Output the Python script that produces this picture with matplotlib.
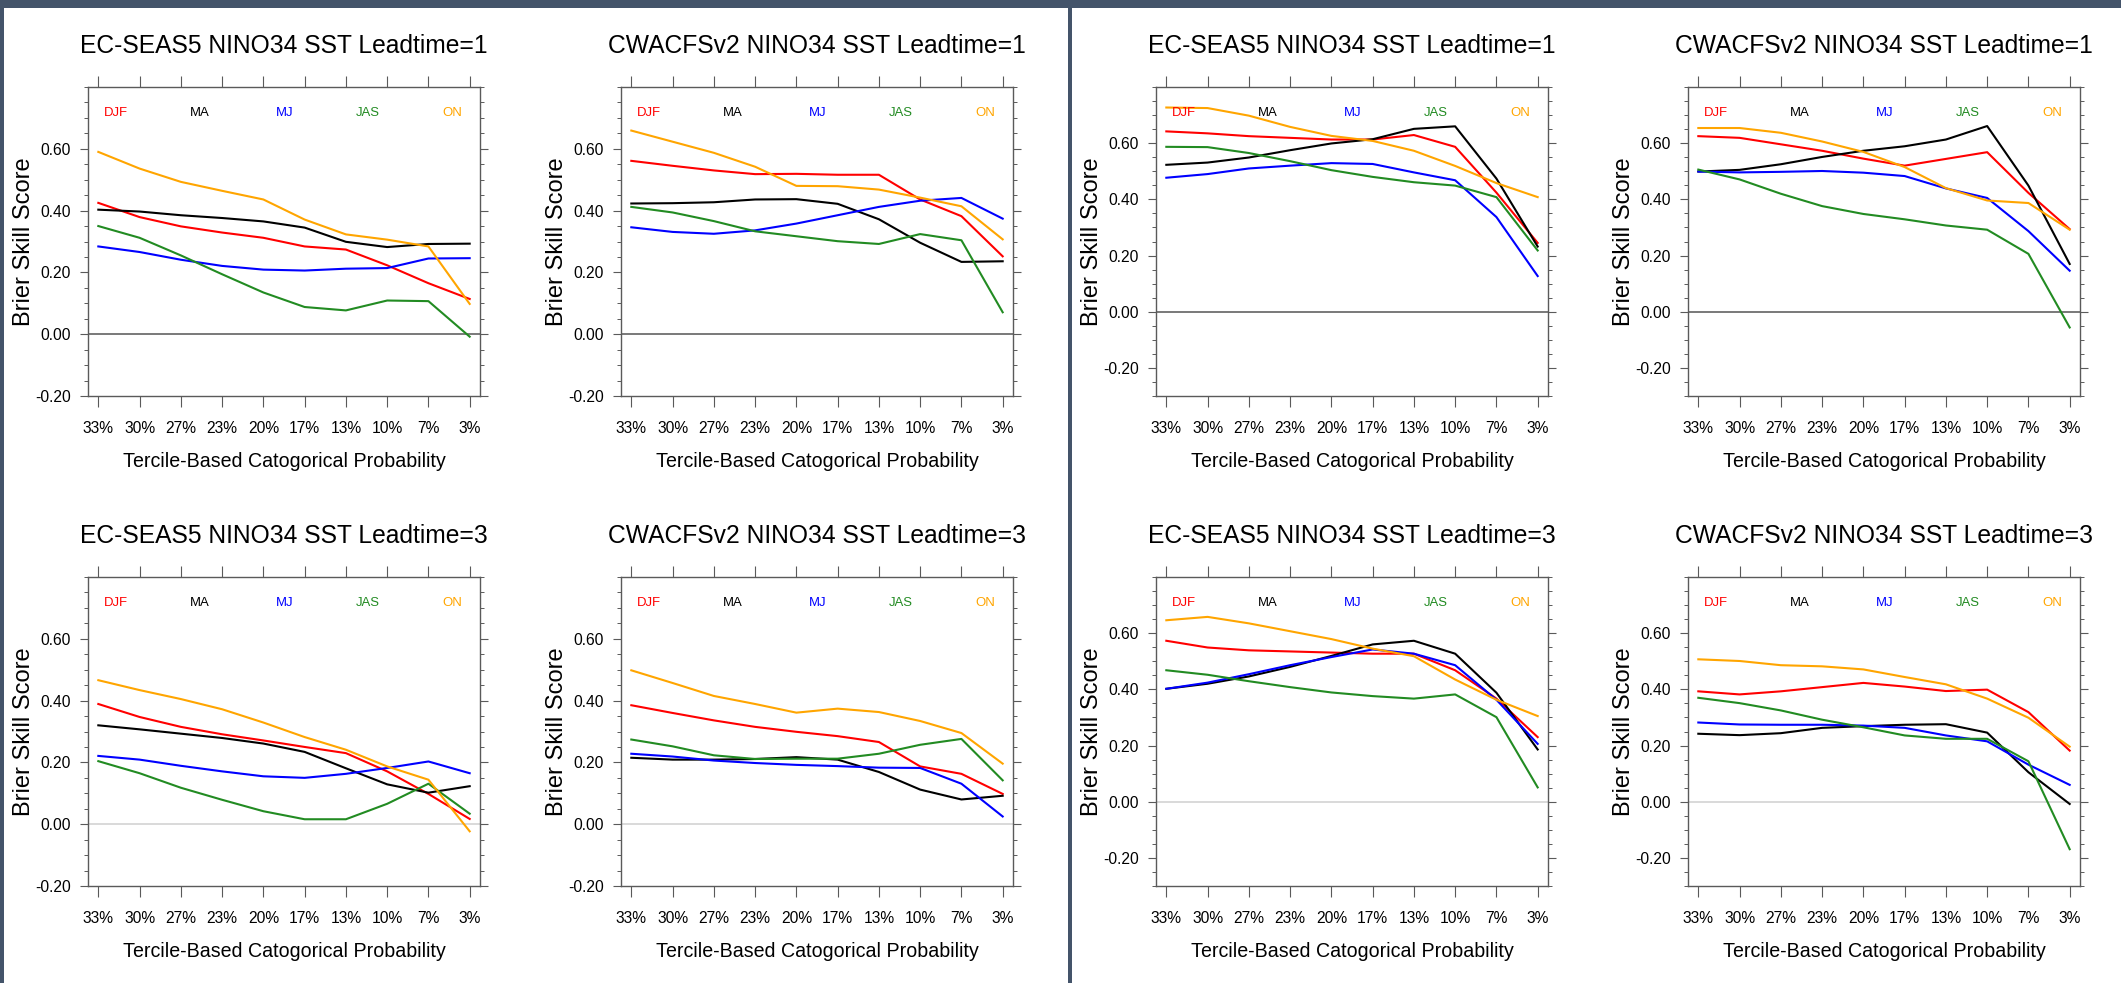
import matplotlib
matplotlib.use("Agg")
import matplotlib.pyplot as plt
from matplotlib import font_manager
from matplotlib.patches import Rectangle
from matplotlib.ticker import MultipleLocator, FixedLocator, FormatStrFormatter

# ---------------- data ----------------
x_labels = ["33%", "30%", "27%", "23%", "20%", "17%", "13%", "10%", "7%", "3%"]
seasons = ["DJF", "MA", "MJ", "JAS", "ON"]
y_ticks = [-0.2, 0.0, 0.2, 0.4, 0.6]

# Left panel (A)
A_ec1_DJF = [0.425, 0.379, 0.349, 0.329, 0.312, 0.284, 0.274, 0.223, 0.165, 0.114]
A_ec1_MA  = [0.403, 0.397, 0.385, 0.376, 0.365, 0.345, 0.299, 0.282, 0.292, 0.293]
A_ec1_MJ  = [0.284, 0.266, 0.241, 0.221, 0.209, 0.206, 0.212, 0.214, 0.245, 0.246]
A_ec1_JAS = [0.350, 0.312, 0.255, 0.194, 0.135, 0.088, 0.077, 0.109, 0.107, -0.008]
A_ec1_ON  = [0.590, 0.536, 0.493, 0.464, 0.436, 0.371, 0.323, 0.306, 0.284, 0.098]

A_cw1_DJF = [0.561, 0.545, 0.530, 0.518, 0.519, 0.516, 0.516, 0.436, 0.382, 0.252]
A_cw1_MA  = [0.423, 0.424, 0.427, 0.436, 0.437, 0.422, 0.372, 0.296, 0.234, 0.236]
A_cw1_MJ  = [0.346, 0.331, 0.325, 0.336, 0.358, 0.385, 0.412, 0.432, 0.441, 0.374]
A_cw1_JAS = [0.412, 0.394, 0.366, 0.333, 0.317, 0.301, 0.292, 0.324, 0.304, 0.071]
A_cw1_ON  = [0.659, 0.623, 0.587, 0.542, 0.480, 0.479, 0.468, 0.442, 0.414, 0.307]

A_ec3_DJF = [0.389, 0.347, 0.315, 0.291, 0.271, 0.250, 0.230, 0.171, 0.098, 0.017]
A_ec3_MA  = [0.320, 0.307, 0.293, 0.279, 0.261, 0.234, 0.181, 0.129, 0.102, 0.123]
A_ec3_MJ  = [0.221, 0.209, 0.189, 0.171, 0.155, 0.150, 0.163, 0.182, 0.203, 0.165]
A_ec3_JAS = [0.204, 0.165, 0.118, 0.079, 0.042, 0.016, 0.016, 0.066, 0.131, 0.034]
A_ec3_ON  = [0.466, 0.434, 0.405, 0.372, 0.329, 0.282, 0.241, 0.187, 0.144, -0.023]

A_cw3_DJF = [0.385, 0.360, 0.336, 0.315, 0.299, 0.285, 0.266, 0.187, 0.163, 0.098]
A_cw3_MA  = [0.215, 0.209, 0.209, 0.211, 0.217, 0.209, 0.169, 0.112, 0.080, 0.092]
A_cw3_MJ  = [0.228, 0.219, 0.206, 0.198, 0.192, 0.188, 0.183, 0.182, 0.131, 0.025]
A_cw3_JAS = [0.274, 0.252, 0.223, 0.211, 0.212, 0.212, 0.228, 0.257, 0.276, 0.142]
A_cw3_ON  = [0.498, 0.457, 0.415, 0.389, 0.361, 0.374, 0.363, 0.334, 0.295, 0.196]

# Right panel (B)
B_ec1_DJF = [0.642, 0.635, 0.625, 0.619, 0.613, 0.613, 0.629, 0.587, 0.424, 0.245]
B_ec1_MA  = [0.523, 0.531, 0.549, 0.575, 0.599, 0.614, 0.651, 0.660, 0.474, 0.232]
B_ec1_MJ  = [0.477, 0.490, 0.510, 0.520, 0.529, 0.526, 0.496, 0.468, 0.337, 0.127]
B_ec1_JAS = [0.587, 0.586, 0.565, 0.536, 0.504, 0.480, 0.461, 0.449, 0.408, 0.218]
B_ec1_ON  = [0.727, 0.725, 0.698, 0.658, 0.626, 0.608, 0.573, 0.519, 0.458, 0.408]

B_cw1_DJF = [0.625, 0.619, 0.596, 0.573, 0.545, 0.520, 0.544, 0.568, 0.423, 0.294]
B_cw1_MA  = [0.499, 0.505, 0.525, 0.551, 0.573, 0.589, 0.613, 0.661, 0.449, 0.170]
B_cw1_MJ  = [0.499, 0.496, 0.498, 0.501, 0.495, 0.483, 0.439, 0.405, 0.287, 0.146]
B_cw1_JAS = [0.506, 0.471, 0.420, 0.376, 0.348, 0.329, 0.307, 0.292, 0.206, -0.056]
B_cw1_ON  = [0.654, 0.654, 0.637, 0.606, 0.569, 0.515, 0.440, 0.396, 0.387, 0.292]

B_ec3_DJF = [0.573, 0.549, 0.539, 0.535, 0.531, 0.527, 0.527, 0.468, 0.367, 0.230]
B_ec3_MA  = [0.402, 0.420, 0.446, 0.480, 0.519, 0.560, 0.573, 0.527, 0.388, 0.186]
B_ec3_MJ  = [0.402, 0.424, 0.454, 0.486, 0.515, 0.542, 0.527, 0.486, 0.363, 0.206]
B_ec3_JAS = [0.468, 0.452, 0.429, 0.408, 0.389, 0.376, 0.367, 0.382, 0.301, 0.051]
B_ec3_ON  = [0.646, 0.658, 0.635, 0.607, 0.579, 0.545, 0.518, 0.435, 0.363, 0.305]

B_cw3_DJF = [0.393, 0.382, 0.393, 0.408, 0.423, 0.410, 0.394, 0.399, 0.319, 0.182]
B_cw3_MA  = [0.242, 0.237, 0.244, 0.263, 0.269, 0.274, 0.276, 0.246, 0.105, -0.008]
B_cw3_MJ  = [0.282, 0.275, 0.274, 0.274, 0.271, 0.263, 0.236, 0.215, 0.132, 0.060]
B_cw3_JAS = [0.370, 0.351, 0.325, 0.292, 0.265, 0.236, 0.224, 0.224, 0.144, -0.169]
B_cw3_ON  = [0.507, 0.501, 0.486, 0.482, 0.471, 0.444, 0.418, 0.367, 0.299, 0.196]

title_ec1 = "EC-SEAS5 NINO34 SST Leadtime=1"
title_cw1 = "CWACFSv2 NINO34 SST Leadtime=1"
title_ec3 = "EC-SEAS5 NINO34 SST Leadtime=3"
title_cw3 = "CWACFSv2 NINO34 SST Leadtime=3"
ylabel = "Brier Skill Score"
xlabel = "Tercile-Based Catogorical Probability"

# ---------------- style ----------------
available = {f.name for f in font_manager.fontManager.ttflist}
NARROW = [n for n in ["Liberation Sans Narrow", "Arial Narrow", "Nimbus Sans Narrow"]
          if n in available] + ["Liberation Sans", "DejaVu Sans"]
REGULAR = ["Liberation Sans", "DejaVu Sans"]
plt.rcParams["font.family"] = NARROW

colors = ["#ff0000", "#000000", "#0000ff", "#228b22", "#ffa500"]
season_xfrac = [0.071, 0.286, 0.502, 0.714, 0.930]
frame_col = "#5a5a5a"
border_col = "#44546a"

W, H = 2121, 983
fig = plt.figure(figsize=(W / 100, H / 100), dpi=100)
fig.patch.set_facecolor("white")
renderer = fig.canvas.get_renderer()


def text_width(s, size):
    t = fig.text(0, 0, s, fontsize=size)
    w = t.get_window_extent(renderer).width
    t.remove()
    return w


def fit_size(s, target_w, nominal):
    """compromise between the size matching the reference glyph height
    and the size matching the reference (condensed) text width"""
    sw = nominal * target_w / text_width(s, nominal)
    if sw >= nominal:
        return nominal
    return 0.5 * (sw + nominal)


fs_title = fit_size(title_ec1, 368, 19.5)
fs_tick = fit_size("33%", 28, 12.5)
fs_xlabel = fit_size(xlabel, 290, 15.5)
fs_season = fit_size("JAS", 21.4, 10.5)

# dark border strips
for (x0, y0, w, h) in [(0, H - 8, W, 8), (0, 0, 4, H), (1068, 0, 4, H)]:
    fig.add_artist(Rectangle((x0 / W, y0 / H), w / W, h / H,
                             transform=fig.transFigure, facecolor=border_col,
                             edgecolor="none", zorder=10))

col_left = [88, 621, 1156, 1688]
row_bottom = [H - 396, H - 886]
ax_w, ax_h = 392, 309

panels = [
    (0, 0, title_ec1, [A_ec1_DJF, A_ec1_MA, A_ec1_MJ, A_ec1_JAS, A_ec1_ON], (-0.2, 0.8), "#555555"),
    (1, 0, title_cw1, [A_cw1_DJF, A_cw1_MA, A_cw1_MJ, A_cw1_JAS, A_cw1_ON], (-0.2, 0.8), "#555555"),
    (0, 1, title_ec3, [A_ec3_DJF, A_ec3_MA, A_ec3_MJ, A_ec3_JAS, A_ec3_ON], (-0.2, 0.8), "#cfcfcf"),
    (1, 1, title_cw3, [A_cw3_DJF, A_cw3_MA, A_cw3_MJ, A_cw3_JAS, A_cw3_ON], (-0.2, 0.8), "#cfcfcf"),
    (2, 0, title_ec1, [B_ec1_DJF, B_ec1_MA, B_ec1_MJ, B_ec1_JAS, B_ec1_ON], (-0.3, 0.8), "#555555"),
    (3, 0, title_cw1, [B_cw1_DJF, B_cw1_MA, B_cw1_MJ, B_cw1_JAS, B_cw1_ON], (-0.3, 0.8), "#555555"),
    (2, 1, title_ec3, [B_ec3_DJF, B_ec3_MA, B_ec3_MJ, B_ec3_JAS, B_ec3_ON], (-0.3, 0.8), "#cfcfcf"),
    (3, 1, title_cw3, [B_cw3_DJF, B_cw3_MA, B_cw3_MJ, B_cw3_JAS, B_cw3_ON], (-0.3, 0.8), "#cfcfcf"),
]

xs = list(range(len(x_labels)))

for col, row, title, series, ylim, zero_col in panels:
    ax = fig.add_axes([col_left[col] / W, row_bottom[row] / H, ax_w / W, ax_h / H])
    ax.set_xlim(-0.25, len(x_labels) - 0.75)
    ax.set_ylim(*ylim)
    ax.axhline(0, color=zero_col, lw=1.1, zorder=1)
    for vals, c in zip(series, colors):
        ax.plot(xs, vals, color=c, lw=1.5, zorder=3)

    for sp in ax.spines.values():
        sp.set_color(frame_col)
        sp.set_linewidth(1.0)

    ax.set_xticks(xs)
    ax.set_xticklabels(x_labels)
    ax.yaxis.set_major_locator(FixedLocator(y_ticks))
    ax.yaxis.set_major_formatter(FormatStrFormatter("%.2f"))
    ax.yaxis.set_minor_locator(MultipleLocator(0.05))
    ax.tick_params(axis="x", which="major", top=True, bottom=True, direction="out",
                   length=7.7, width=0.8, color=frame_col, pad=10.5, labelsize=fs_tick)
    ax.tick_params(axis="y", which="major", left=True, right=True, direction="out",
                   length=5.6, width=0.8, color=frame_col, pad=6.5, labelsize=fs_tick)
    ax.tick_params(axis="y", which="minor", left=True, right=True, direction="out",
                   length=2.7, width=0.7, color=frame_col)

    for s, c, fx in zip(seasons, colors, season_xfrac):
        ax.text(fx, 0.906, s, color=c, transform=ax.transAxes, ha="center",
                va="baseline", fontsize=fs_season, zorder=4)

    ax.text(0.5, 1.110, title, transform=ax.transAxes, ha="center", va="baseline",
            fontsize=fs_title)
    ax.text(-0.1645, 0.5, ylabel, transform=ax.transAxes, rotation=90, ha="center",
            va="center", fontsize=17, family=REGULAR)
    ax.text(0.5, -0.2298, xlabel, transform=ax.transAxes, ha="center", va="baseline",
            fontsize=fs_xlabel)

fig.savefig("out.png", dpi=100, facecolor="white")
